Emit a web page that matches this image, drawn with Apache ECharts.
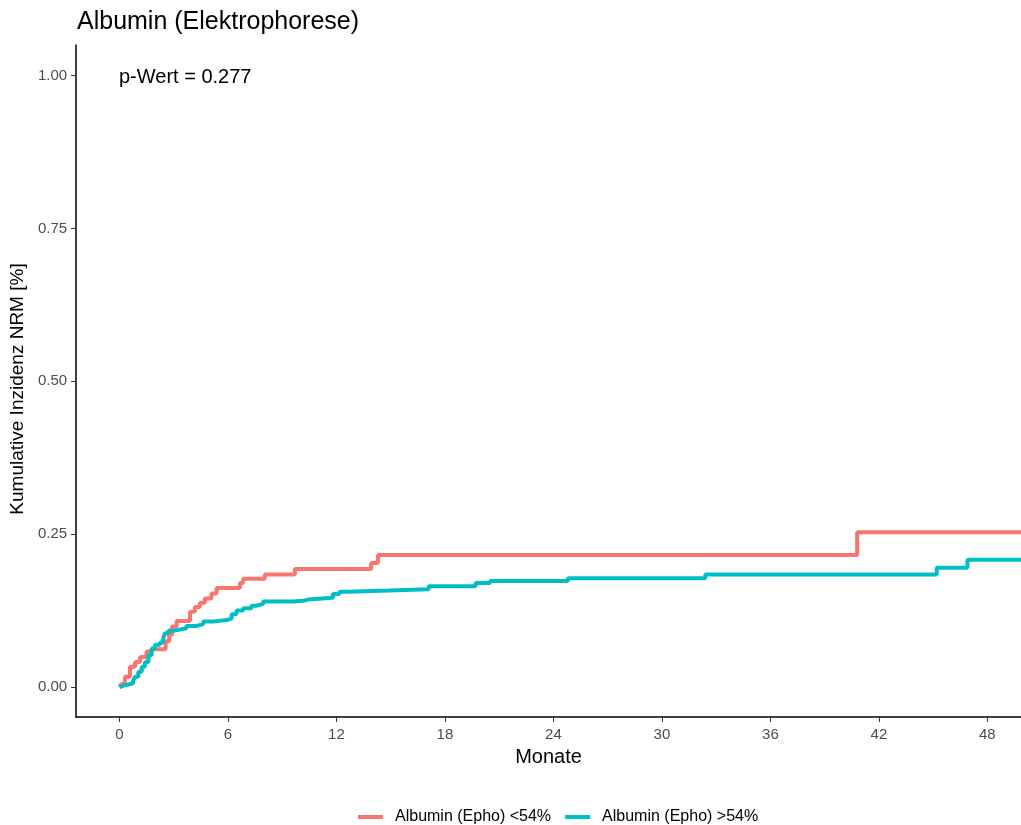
<!DOCTYPE html>
<html>
<head>
<meta charset="utf-8">
<script src="https://cdn.jsdelivr.net/npm/echarts@6/dist/echarts.min.js"></script>
<style>
  html, body { margin: 0; padding: 0; background: #fff; }
  #main { width: 1021px; height: 825px; }
</style>
</head>
<body>
<div id="main"></div>
<script>
// Daten
var monthsLow = [0, 0.1, 0.3, 0.58, 0.86, 1.14, 1.5, 1.78, 2.55, 2.75, 2.9, 3.16, 3.9, 4.17, 4.45, 4.72, 5.09, 5.37, 6.66, 6.84, 8.04, 9.7, 13.92, 14.3, 40.8, 49.86];
var valuesLow = [0, 0.005, 0.017, 0.033, 0.041, 0.049, 0.058, 0.062, 0.075, 0.085, 0.099, 0.108, 0.123, 0.131, 0.138, 0.145, 0.153, 0.162, 0.170, 0.177, 0.184, 0.193, 0.203, 0.216, 0.253, 0.253];

var monthsHigh = [0, 0.1, 0.3, 0.75, 0.86, 1.04, 1.23, 1.41, 1.6, 1.78, 1.96, 2.24, 2.42, 2.52, 2.7, 2.97, 3.34, 3.7, 4.27, 4.63, 5.18, 6.0, 6.2, 6.47, 6.84, 7.3, 7.58, 7.94, 9.6, 10.15, 10.43, 11.8, 12.17, 12.63, 14.9, 17.1, 19.7, 20.5, 24.8, 32.4, 45.2, 46.9, 49.86];
var valuesHigh = [0, 0.003, 0.006, 0.010, 0.017, 0.025, 0.033, 0.041, 0.052, 0.063, 0.069, 0.073, 0.080, 0.088, 0.092, 0.094, 0.096, 0.100, 0.103, 0.107, 0.110, 0.112, 0.119, 0.125, 0.129, 0.133, 0.136, 0.140, 0.141, 0.143, 0.146, 0.152, 0.156, 0.158, 0.160, 0.165, 0.170, 0.1735, 0.178, 0.184, 0.195, 0.208, 0.208];

var xTicks = [0, 6, 12, 18, 24, 30, 36, 42, 48];
var yTicks = [0, 0.25, 0.5, 0.75, 1];
var seriesNames = ['Albumin (Epho) <54%', 'Albumin (Epho) >54%'];

function pairs(xs, ys) {
  return xs.map(function (x, i) { return [x, ys[i]]; });
}

var myChart = echarts.init(document.getElementById('main'));
var font = 'Liberation Sans, Arial, sans-serif';

var option = {
  animation: false,
  textStyle: { fontFamily: font },
  title: {
    text: 'Albumin (Elektrophorese)',
    left: 72, top: 5,
    textStyle: { fontSize: 25, fontWeight: 'normal', color: '#000', fontFamily: font }
  },
  graphic: [{
    type: 'text', left: 119, top: 67,
    style: { text: 'p-Wert = 0.277', fontSize: 20, fill: '#000', fontFamily: font }
  }],
  legend: {
    top: 804, left: 353,
    itemWidth: 25, itemHeight: 4, itemGap: 14,
    icon: 'rect',
    textStyle: { fontSize: 16, color: '#000', fontFamily: font, padding: [0, 0, 0, 7] },
    data: seriesNames
  },
  grid: { left: 76, right: 0, top: 45, bottom: 108, containLabel: false },
  xAxis: {
    type: 'value', min: -2.4, max: 49.86,
    name: 'Monate', nameLocation: 'middle', nameGap: 30,
    nameTextStyle: { fontSize: 20, color: '#000' },
    axisLine: { onZero: false, lineStyle: { color: '#000', width: 1.5 } },
    axisTick: { show: true, length: 5, lineStyle: { color: '#333' }, customValues: xTicks },
    axisLabel: { fontSize: 15, color: '#4d4d4d', margin: 10, customValues: xTicks },
    splitLine: { show: false }
  },
  yAxis: {
    type: 'value', min: -0.049, max: 1.05,
    name: 'Kumulative Inzidenz NRM [%]', nameLocation: 'middle', nameGap: 44,
    nameTextStyle: { fontSize: 19, color: '#000', padding: [0, 16, 0, 0] },
    axisLine: { show: true, onZero: false, lineStyle: { color: '#000', width: 1.5 } },
    axisTick: { show: true, length: 5, lineStyle: { color: '#333' }, customValues: yTicks },
    axisLabel: {
      fontSize: 15, color: '#4d4d4d', margin: 9, customValues: yTicks,
      formatter: function (v) { return v.toFixed(2); }
    },
    splitLine: { show: false }
  },
  series: [
    {
      name: seriesNames[0], type: 'line', step: 'end', showSymbol: false,
      color: '#F8766D', lineStyle: { width: 4, color: '#F8766D' },
      data: pairs(monthsLow, valuesLow)
    },
    {
      name: seriesNames[1], type: 'line', step: 'end', showSymbol: false,
      color: '#00BFC4', lineStyle: { width: 4, color: '#00BFC4' },
      data: pairs(monthsHigh, valuesHigh)
    }
  ]
};

myChart.setOption(option);
</script>
</body>
</html>
